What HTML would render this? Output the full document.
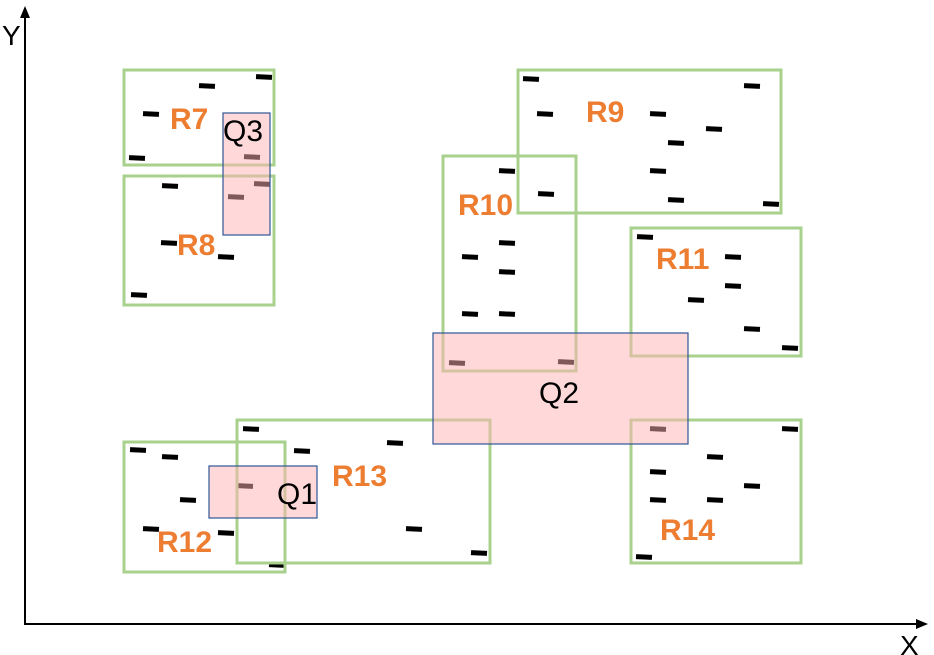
<!DOCTYPE html>
<html><head><meta charset="utf-8"><style>html,body{margin:0;padding:0;background:#fff}svg{display:block}</style></head><body>
<svg width="934" height="655" viewBox="0 0 934 655" xmlns="http://www.w3.org/2000/svg" font-family="Liberation Sans, sans-serif">
<defs><rect id="d" x="-8" y="-2.5" width="16" height="5" fill="#000" transform="rotate(3)"/></defs>
<!-- axes -->
<line x1="25" y1="624" x2="25" y2="16" stroke="#000" stroke-width="2"/>
<polygon points="25,6 20,18 30,18" fill="#000"/>
<line x1="24" y1="624" x2="918" y2="624" stroke="#000" stroke-width="2"/>
<polygon points="928,624 916,619 916,629" fill="#000"/>
<text x="2" y="45" font-size="28">Y</text>
<text x="900" y="655" font-size="28">X</text>
<!-- dashes -->
<g>
<use href="#d" x="531" y="79"/><use href="#d" x="752" y="86"/><use href="#d" x="545" y="114"/><use href="#d" x="658" y="114"/><use href="#d" x="714" y="129"/><use href="#d" x="676" y="143"/><use href="#d" x="507" y="171"/><use href="#d" x="658" y="171"/><use href="#d" x="546" y="194"/><use href="#d" x="676" y="200"/><use href="#d" x="771" y="204"/><use href="#d" x="645" y="237"/><use href="#d" x="507" y="243"/><use href="#d" x="470" y="257"/><use href="#d" x="733" y="257"/><use href="#d" x="507" y="272"/><use href="#d" x="733" y="286"/><use href="#d" x="696" y="300"/><use href="#d" x="470" y="314"/><use href="#d" x="507" y="314"/><use href="#d" x="752" y="329"/><use href="#d" x="790" y="348"/><use href="#d" x="457" y="363"/><use href="#d" x="566" y="362"/>
<use href="#d" x="658" y="429"/><use href="#d" x="790" y="429"/><use href="#d" x="715" y="457"/><use href="#d" x="658" y="472"/><use href="#d" x="752" y="486"/><use href="#d" x="658" y="500"/><use href="#d" x="715" y="500"/><use href="#d" x="644" y="557"/>
<use href="#d" x="207" y="86"/><use href="#d" x="264" y="77"/><use href="#d" x="151" y="114"/><use href="#d" x="137" y="158"/><use href="#d" x="252" y="157"/><use href="#d" x="170" y="186"/><use href="#d" x="262" y="184"/><use href="#d" x="236" y="197"/><use href="#d" x="169" y="243"/><use href="#d" x="226" y="257"/><use href="#d" x="139" y="295"/>
<use href="#d" x="251" y="429"/><use href="#d" x="138" y="450"/><use href="#d" x="170" y="457"/><use href="#d" x="302" y="451"/><use href="#d" x="395" y="443"/><use href="#d" x="245" y="486"/><use href="#d" x="188" y="500"/><use href="#d" x="151" y="529"/><use href="#d" x="226" y="533"/><use href="#d" x="414" y="529"/><use href="#d" x="277" y="565"/><use href="#d" x="479" y="553"/>
</g>
<!-- green rects -->
<g fill="none" stroke="#A9D18E" stroke-width="3">
<rect x="124" y="70" width="150" height="95"/>
<rect x="124" y="176" width="150" height="129"/>
<rect x="124" y="442" width="161" height="130"/>
<rect x="237" y="420" width="253" height="143"/>
<rect x="518" y="70" width="263" height="143"/>
<rect x="443" y="156" width="133" height="215"/>
<rect x="631" y="228" width="170" height="128"/>
<rect x="631" y="420" width="170" height="143"/>
</g>
<!-- query rects -->
<g fill="#FFB4B4" fill-opacity="0.5" stroke="#2F5597" stroke-width="1.2">
<rect x="223" y="113" width="47" height="122"/>
<rect x="209" y="466" width="108" height="52"/>
<rect x="433" y="333" width="255" height="111"/>
</g>
<!-- labels -->
<g fill="#ED7D31" font-size="30" font-weight="bold">
<text x="170" y="129">R7</text>
<text x="177" y="255">R8</text>
<text x="586" y="122">R9</text>
<text x="458" y="215">R10</text>
<text x="656" y="269">R11</text>
<text x="157" y="552">R12</text>
<text x="332" y="486">R13</text>
<text x="660" y="540">R14</text>
</g>
<g fill="#000" font-size="30">
<text x="223" y="141">Q3</text>
<text x="277" y="504">Q1</text>
<text x="539" y="403">Q2</text>
</g>
</svg>
</body></html>
